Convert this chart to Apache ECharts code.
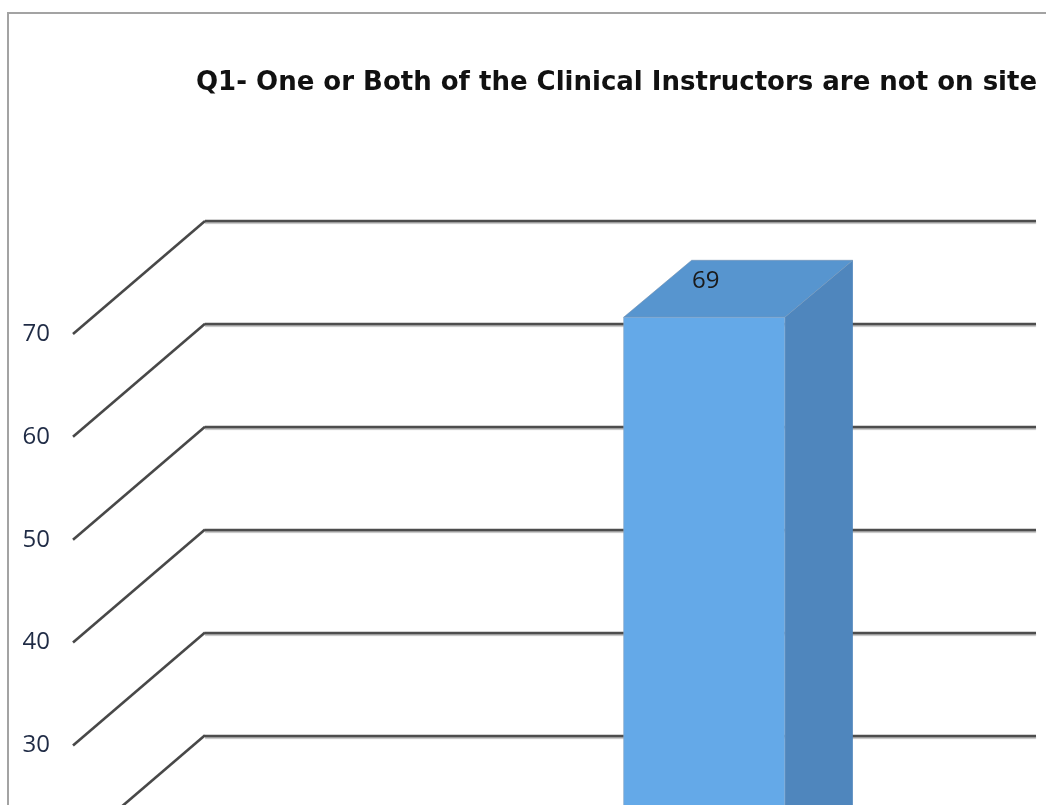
<!DOCTYPE html>
<html>
<head>
<meta charset="utf-8">
<script src="https://cdn.jsdelivr.net/npm/echarts@6/dist/echarts.min.js"></script>
<style>
    html, body { margin: 0; padding: 0; background: #fff; overflow: hidden; }
    #chart { position: absolute; left: 0; top: 0; width: 1046px; height: 1100px; }
</style>
</head>
<body>
<div id="chart"></div>
<script>
var titleText = 'Q1- One or Both of the Clinical Instructors are not on site';
// two answer columns; the first one is below the visible crop, so its value is unknown
var categories = ['A', 'B'];
var values = [null, 69];
var yTicks = [0, 10, 20, 30, 40, 50, 60, 70];
var yMin = 0, yMax = 70, yStep = 10;

// oblique depth of the side wall / floor (px)
var DX = 132, DY = 113;
// offsets of the bar's front and back faces from the front plane
var BAR_FRONT = [8, -27], BAR_BACK = [76, -84];
var BAR_RATIO = 0.388;

var FONT = '"Open Sans", "Noto Sans", sans-serif';

function renderWall(params, api) {
    var p = api.coord([0, api.value(1)]);
    var x = params.coordSys.x;
    return {
        type: 'line',
        shape: { x1: x, y1: p[1], x2: x + DX, y2: p[1] - DY },
        style: { stroke: '#484848', lineWidth: 2.6 }
    };
}

function renderBar(params, api) {
    var v = api.value(1);
    if (v == null || isNaN(v)) return;
    var top = api.coord([api.value(0), v]);
    var base = api.coord([api.value(0), 0]);
    var w = api.size([1, 0])[0] * BAR_RATIO;
    var x0 = top[0] - w / 2;
    var fx = x0 + BAR_FRONT[0], bx = x0 + BAR_BACK[0];
    var ft = top[1] + BAR_FRONT[1], bt = top[1] + BAR_BACK[1];
    var fb = base[1] + BAR_FRONT[1], bb = base[1] + BAR_BACK[1];
    return {
        type: 'group',
        children: [{
            type: 'polygon',
            shape: { points: [[fx + w, ft], [bx + w, bt], [bx + w, bb], [fx + w, fb]] },
            style: { fill: '#4f86bd' }
        }, {
            type: 'polygon',
            shape: { points: [[fx, ft], [fx + w, ft], [bx + w, bt], [bx, bt]] },
            style: { fill: '#5795cf', stroke: '#6f8fb0', lineWidth: 0.6 }
        }, {
            type: 'rect',
            shape: { x: fx, y: ft, width: w, height: fb - ft },
            style: { fill: '#64a9e8', stroke: '#8aa6c2', lineWidth: 0.6 }
        }, {
            type: 'text',
            style: {
                text: String(v),
                x: bx + 14,
                y: (ft + bt) / 2 - 8,
                align: 'center',
                verticalAlign: 'middle',
                fill: '#1a1a1a',
                font: '24px ' + FONT
            }
        }]
    };
}

var chart = echarts.init(document.getElementById('chart'));

chart.setOption({
    animation: false,
    backgroundColor: '#fff',
    title: {
        text: titleText,
        left: 196,
        top: 70,
        padding: 0,
        textStyle: { fontFamily: '"DejaVu Sans", sans-serif', fontWeight: 'bold', fontSize: 26, color: '#111' }
    },
    graphic: [{
        type: 'polyline',
        shape: { points: [[8, 1100], [8, 13], [1046, 13]] },
        style: { stroke: '#a3a3a3', lineWidth: 2, fill: null }
    }],
    grid: [
        { left: 73, top: 334, width: 831, height: 720 },   // front plane
        { left: 205, top: 221, width: 831, height: 720 }   // back wall
    ],
    xAxis: [
        { type: 'category', gridIndex: 0, data: categories, show: false },
        { type: 'category', gridIndex: 1, data: categories, show: false }
    ],
    yAxis: [{
        type: 'value', gridIndex: 0, min: yMin, max: yMax, interval: yStep,
        axisLine: { show: false }, axisTick: { show: false }, splitLine: { show: false },
        axisLabel: { margin: 23, fontSize: 24, fontFamily: FONT, color: '#1f2b45' }
    }, {
        type: 'value', gridIndex: 1, min: yMin, max: yMax, interval: yStep,
        axisLine: { show: false }, axisTick: { show: false }, axisLabel: { show: false },
        splitLine: {
            lineStyle: {
                color: '#4d4d4d', width: 2.4,
                shadowColor: 'rgba(0,0,0,0.3)', shadowOffsetY: 1.5, shadowBlur: 1
            }
        }
    }],
    series: [{
        type: 'custom',
        xAxisIndex: 0, yAxisIndex: 0,
        renderItem: renderWall,
        data: yTicks.map(function(t) { return [0, t]; }),
        clip: false,
        z: 1
    }, {
        type: 'custom',
        xAxisIndex: 0, yAxisIndex: 0,
        renderItem: renderBar,
        data: values.map(function(v, i) { return [i, v]; }),
        clip: false,
        z: 3
    }]
});
</script>
</body>
</html>
